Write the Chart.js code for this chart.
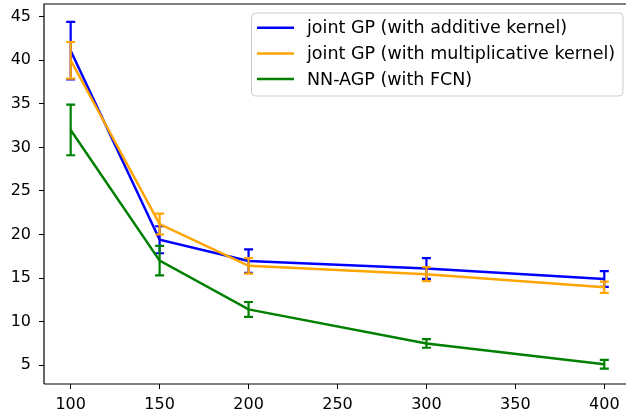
<!DOCTYPE html>
<html>
<head>
<meta charset="utf-8">
<script src="https://cdn.jsdelivr.net/npm/chart.js@4/dist/chart.umd.min.js"></script>
<style>
  html, body { margin: 0; padding: 0; background: #fff; overflow: hidden; }
</style>
</head>
<body>
<canvas id="canvas1" width="626" height="415"></canvas>
<script>
var sizes = [100, 150, 200, 300, 400];

var additive = [41.1, 19.4, 16.95, 16.1, 14.9];
var additive_err = [3.3, 1.55, 1.35, 1.2, 0.9];

var multiplicative = [40.0, 21.2, 16.4, 15.45, 13.95];
var multiplicative_err = [2.1, 1.2, 0.9, 0.8, 0.65];

var fcn = [32.0, 17.0, 11.4, 7.5, 5.1];
var fcn_err = [2.9, 1.7, 0.85, 0.5, 0.5];

var x_ticks = [100, 150, 200, 250, 300, 350, 400];
var y_ticks = [5, 10, 15, 20, 25, 30, 35, 40, 45];

function points(ys) {
  return sizes.map(function(x, i) { return {x: x, y: ys[i]}; });
}

var font = "'DejaVu Sans', sans-serif";

// draws the error bars right after each dataset
var errorBars = {
  id: 'errorBars',
  afterDatasetDraw: function(chart, args) {
    var ds = chart.data.datasets[args.index];
    if (!ds.err) return;
    var xs = chart.scales.x, ys = chart.scales.y, ctx = chart.ctx;
    ctx.save();
    ctx.strokeStyle = ds.borderColor;
    ctx.lineWidth = 2.2;
    ds.data.forEach(function(p, i) {
      var px = xs.getPixelForValue(p.x);
      var top = ys.getPixelForValue(p.y + ds.err[i]);
      var bot = ys.getPixelForValue(p.y - ds.err[i]);
      ctx.beginPath();
      ctx.moveTo(px, top); ctx.lineTo(px, bot);
      ctx.moveTo(px - 4.5, top); ctx.lineTo(px + 4.5, top);
      ctx.moveTo(px - 4.5, bot); ctx.lineTo(px + 4.5, bot);
      ctx.stroke();
    });
    ctx.restore();
  }
};

// frame + legend box like matplotlib
var frameLegend = {
  id: 'frameLegend',
  afterDraw: function(chart) {
    var ctx = chart.ctx, a = chart.chartArea;
    ctx.save();
    ctx.strokeStyle = '#000';
    ctx.lineWidth = 1.2;
    ctx.beginPath();
    ctx.moveTo(a.left, a.bottom);
    ctx.lineTo(a.left, a.top);
    ctx.lineTo(a.right + 2, a.top);
    ctx.moveTo(a.left, a.bottom);
    ctx.lineTo(a.right + 2, a.bottom);
    ctx.stroke();

    var bx = 251, by = 12.5, bw = 371.5, bh = 83, r = 4;
    ctx.fillStyle = 'rgba(255,255,255,0.8)';
    ctx.strokeStyle = '#cccccc';
    ctx.lineWidth = 1;
    ctx.beginPath();
    ctx.roundRect(bx + 0.5, by + 0.5, bw, bh, r);
    ctx.fill();
    ctx.stroke();

    ctx.font = '17.5px ' + font;
    ctx.textBaseline = 'middle';
    chart.data.datasets.forEach(function(ds, i) {
      var cy = 27.7 + i * 25.7;
      ctx.strokeStyle = ds.borderColor;
      ctx.lineWidth = 2.5;
      ctx.beginPath();
      ctx.moveTo(257, cy); ctx.lineTo(294, cy);
      ctx.stroke();
      ctx.fillStyle = '#000';
      ctx.fillText(ds.label, 307, cy + 1);
    });
    ctx.restore();
  }
};

function noPad(s) {
  s.paddingTop = 0; s.paddingBottom = 0; s.paddingLeft = 0; s.paddingRight = 0;
}

new Chart(document.getElementById('canvas1'), {
  type: 'line',
  data: {
    datasets: [
      { label: 'joint GP (with additive kernel)', data: points(additive), err: additive_err,
        borderColor: '#0000ff', order: 3 },
      { label: 'joint GP (with multiplicative kernel)', data: points(multiplicative), err: multiplicative_err,
        borderColor: '#ffa500', order: 2 },
      { label: 'NN-AGP (with FCN)', data: points(fcn), err: fcn_err,
        borderColor: '#008000', order: 1 }
    ]
  },
  options: {
    responsive: false,
    animation: false,
    layout: { autoPadding: false, padding: { top: 4, right: 0, left: 0, bottom: 0 } },
    elements: {
      line: { borderWidth: 2.5, tension: 0, fill: false },
      point: { radius: 0, hoverRadius: 0 }
    },
    plugins: { legend: { display: false }, tooltip: { enabled: false } },
    scales: {
      x: {
        type: 'linear',
        min: 85,
        max: 412.2,
        afterFit: function(s) { s.height = 31; noPad(s); },
        afterBuildTicks: function(s) { s.ticks = x_ticks.map(function(v) { return {value: v}; }); },
        grid: { drawOnChartArea: false, drawTicks: true, tickLength: 5, color: '#000', lineWidth: 1 },
        border: { display: false },
        ticks: { color: '#000', font: { family: font, size: 16 }, padding: 6, maxRotation: 0 }
      },
      y: {
        type: 'linear',
        min: 2.84,
        max: 46.46,
        afterFit: function(s) { s.width = 44; noPad(s); },
        afterBuildTicks: function(s) { s.ticks = y_ticks.map(function(v) { return {value: v}; }); },
        grid: { drawOnChartArea: false, drawTicks: true, tickLength: 5, color: '#000', lineWidth: 1 },
        border: { display: false },
        ticks: { color: '#000', font: { family: font, size: 16 }, padding: 8 }
      }
    }
  },
  plugins: [errorBars, frameLegend]
});
</script>
</body>
</html>
